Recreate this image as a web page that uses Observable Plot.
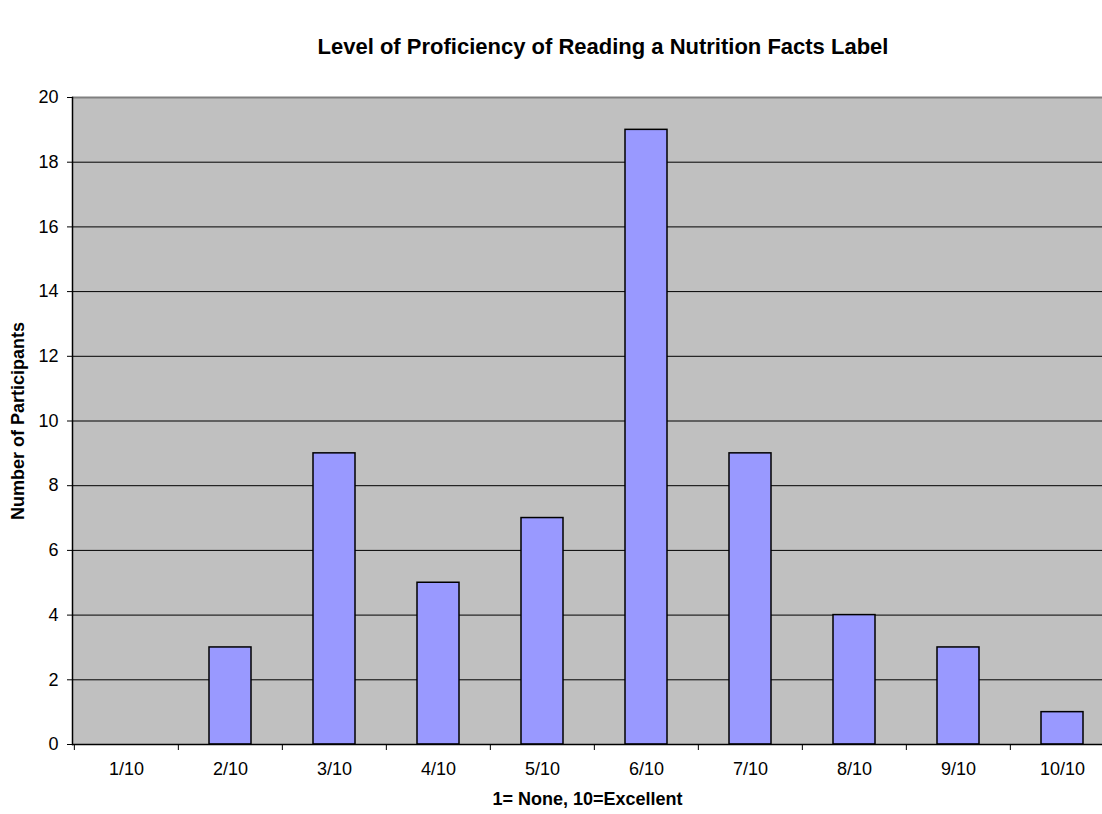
<!DOCTYPE html>
<html><head><meta charset="utf-8">
<script src="https://cdn.jsdelivr.net/npm/d3@7"></script>
<script src="https://cdn.jsdelivr.net/npm/@observablehq/plot@0.6"></script>
<style>
body{margin:0;background:#fff;overflow:hidden;font-family:"Liberation Sans",Arial,sans-serif;}
#title{height:80px;box-sizing:border-box;padding-top:36px;padding-left:104px;text-align:center;font-weight:bold;font-size:22px;line-height:22px;color:#000;}
</style></head><body>
<div id="title">Level of Proficiency of Reading a Nutrition Facts Label</div>
<div id="chart"></div>
<script>
const categories = ["1/10","2/10","3/10","4/10","5/10","6/10","7/10","8/10","9/10","10/10"];
const counts = [0,3,9,5,7,19,9,4,3,1];
const yTicks = [0,2,4,6,8,10,12,14,16,18,20];
const xTitle = "1= None, 10=Excellent";
const yTitle = "Number of Participants";

const data = categories.map((c,i)=>({category:c,count:counts[i]}));
const W=1102, H=734, ML=72, MT=17, MB=70;
const xRange=[72, 1115];
const step=(xRange[1]-xRange[0])/categories.length;
const font='"Liberation Sans", Arial, sans-serif';

const chart = Plot.plot({
  width: W, height: H, marginLeft: ML, marginRight: 0, marginTop: MT, marginBottom: MB,
  style: {fontFamily: font, fontSize: "18px", background: "white", overflow: "hidden", color: "black"},
  x: {domain: categories, range: xRange, paddingInner: 0.6, paddingOuter: 0.3},
  y: {domain: [0,20]},
  marks: [
    Plot.frame({fill: "#C0C0C0", stroke: null}),
    Plot.ruleY(yTicks.filter(t=>t>0&&t<20), {stroke: "black", strokeWidth: 1}),
    Plot.ruleY([20], {stroke: "#808080", strokeWidth: 2}),
    Plot.barY(data, {x: "category", y: "count", fill: "#9999FF", stroke: "black", strokeWidth: 1.5}),
    Plot.ruleY([0], {stroke: "black", strokeWidth: 1.5}),
    Plot.frame({anchor: "left", stroke: "black", strokeWidth: 1.5}),
    Plot.ruleX(categories, {x: d=>d, dx: -step/2, y1: 0, y2: 0, insetBottom: -6, stroke: "black"}),
    Plot.axisY({ticks: yTicks, tickSize: 5, tickPadding: 9, tickFormat: d=>String(d), label: null, fontSize: 18}),
    Plot.axisX({tickSize: 0, tickPadding: 18, label: null, fontSize: 18}),
    Plot.text([xTitle], {text: d=>d, frameAnchor: "bottom", dy: 55, lineAnchor: "middle", fontWeight: "bold", fontSize: 18}),
    Plot.text([yTitle], {text: d=>d, frameAnchor: "left", rotate: -90, dx: -54, textAnchor: "middle", lineAnchor: "middle", fontWeight: "bold", fontSize: 18})
  ]
});
document.getElementById("chart").appendChild(chart);
</script>
</body></html>
